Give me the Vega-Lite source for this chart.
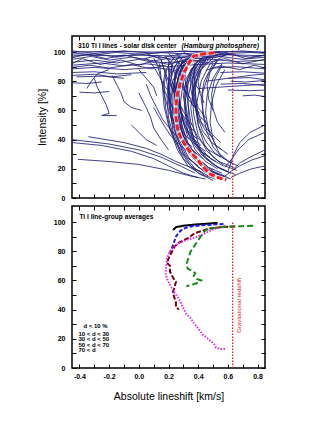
{
  "$schema": "https://vega.github.io/schema/vega-lite/v6.json",
  "background": "white",
  "padding": {"left": 36, "top": 34, "right": 5, "bottom": 5},
  "spacing": 2,
  "config": {
    "view": {"stroke": "black", "strokeWidth": 1.5},
    "axis": {"grid": false, "domain": false, "tickColor": "black", "tickSize": -4, "tickWidth": 1,
             "labelFont": "Liberation Sans", "labelFontSize": 7, "labelFontWeight": "bold", "labelColor": "black",
             "titleFont": "Liberation Sans", "titleFontSize": 10.5, "titleFontWeight": "normal", "titleColor": "black"},
    "text": {"font": "Liberation Sans"}
  },
  "datasets": {
    "bis": [
{"l":1,"x":0.62,"y":13},{"l":1,"x":0.50,"y":17},{"l":1,"x":0.40,"y":25},{"l":1,"x":0.33,"y":35},{"l":1,"x":0.29,"y":50},{"l":1,"x":0.28,"y":65},{"l":1,"x":0.30,"y":80},{"l":1,"x":0.33,"y":92},{"l":1,"x":0.40,"y":98},{"l":1,"x":0.55,"y":100},
{"l":2,"x":0.58,"y":15},{"l":2,"x":0.46,"y":20},{"l":2,"x":0.36,"y":30},{"l":2,"x":0.30,"y":42},{"l":2,"x":0.27,"y":58},{"l":2,"x":0.27,"y":72},{"l":2,"x":0.30,"y":85},{"l":2,"x":0.36,"y":95},{"l":2,"x":0.48,"y":99},
{"l":3,"x":0.55,"y":14},{"l":3,"x":0.44,"y":18},{"l":3,"x":0.34,"y":27},{"l":3,"x":0.27,"y":40},{"l":3,"x":0.23,"y":55},{"l":3,"x":0.22,"y":70},{"l":3,"x":0.25,"y":85},{"l":3,"x":0.30,"y":94},{"l":3,"x":0.25,"y":99},
{"l":4,"x":0.65,"y":16},{"l":4,"x":0.55,"y":20},{"l":4,"x":0.45,"y":27},{"l":4,"x":0.38,"y":38},{"l":4,"x":0.34,"y":52},{"l":4,"x":0.33,"y":68},{"l":4,"x":0.36,"y":82},{"l":4,"x":0.42,"y":93},{"l":4,"x":0.50,"y":99},
{"l":5,"x":0.50,"y":12},{"l":5,"x":0.40,"y":17},{"l":5,"x":0.30,"y":27},{"l":5,"x":0.24,"y":40},{"l":5,"x":0.20,"y":55},{"l":5,"x":0.19,"y":70},{"l":5,"x":0.21,"y":83},{"l":5,"x":0.26,"y":93},{"l":5,"x":0.20,"y":99},
{"l":6,"x":0.60,"y":18},{"l":6,"x":0.50,"y":23},{"l":6,"x":0.42,"y":30},{"l":6,"x":0.36,"y":42},{"l":6,"x":0.32,"y":56},{"l":6,"x":0.30,"y":70},{"l":6,"x":0.32,"y":82},{"l":6,"x":0.38,"y":92},{"l":6,"x":0.45,"y":98},
{"l":7,"x":0.47,"y":15},{"l":7,"x":0.38,"y":20},{"l":7,"x":0.30,"y":30},{"l":7,"x":0.25,"y":44},{"l":7,"x":0.22,"y":58},{"l":7,"x":0.20,"y":72},{"l":7,"x":0.18,"y":85},{"l":7,"x":0.15,"y":95},{"l":7,"x":0.05,"y":99},
{"l":8,"x":0.53,"y":20},{"l":8,"x":0.45,"y":25},{"l":8,"x":0.38,"y":33},{"l":8,"x":0.33,"y":45},{"l":8,"x":0.31,"y":60},{"l":8,"x":0.31,"y":75},{"l":8,"x":0.35,"y":88},{"l":8,"x":0.45,"y":96},{"l":8,"x":0.60,"y":100},
{"l":9,"x":0.57,"y":22},{"l":9,"x":0.48,"y":27},{"l":9,"x":0.41,"y":35},{"l":9,"x":0.37,"y":47},{"l":9,"x":0.35,"y":62},{"l":9,"x":0.37,"y":76},{"l":9,"x":0.42,"y":88},{"l":9,"x":0.50,"y":96},
{"l":10,"x":0.44,"y":16},{"l":10,"x":0.35,"y":22},{"l":10,"x":0.28,"y":32},{"l":10,"x":0.23,"y":46},{"l":10,"x":0.21,"y":62},{"l":10,"x":0.22,"y":78},{"l":10,"x":0.27,"y":90},{"l":10,"x":0.35,"y":97},{"l":10,"x":0.30,"y":100},
{"l":11,"x":0.66,"y":19},{"l":11,"x":0.58,"y":22},{"l":11,"x":0.50,"y":28},{"l":11,"x":0.44,"y":37},{"l":11,"x":0.40,"y":50},{"l":11,"x":0.39,"y":65},{"l":11,"x":0.42,"y":80},{"l":11,"x":0.48,"y":92},{"l":11,"x":0.60,"y":99},
{"l":12,"x":0.52,"y":25},{"l":12,"x":0.44,"y":30},{"l":12,"x":0.37,"y":38},{"l":12,"x":0.33,"y":50},{"l":12,"x":0.31,"y":64},{"l":12,"x":0.33,"y":78},{"l":12,"x":0.38,"y":90},
{"l":13,"x":0.48,"y":28},{"l":13,"x":0.40,"y":33},{"l":13,"x":0.33,"y":42},{"l":13,"x":0.29,"y":55},{"l":13,"x":0.27,"y":68},{"l":13,"x":0.28,"y":80},{"l":13,"x":0.33,"y":91},{"l":13,"x":0.40,"y":98},
{"l":14,"x":0.45,"y":32},{"l":14,"x":0.37,"y":38},{"l":14,"x":0.31,"y":48},{"l":14,"x":0.28,"y":60},{"l":14,"x":0.27,"y":72},{"l":14,"x":0.29,"y":84},{"l":14,"x":0.35,"y":94},
{"l":15,"x":0.42,"y":36},{"l":15,"x":0.35,"y":42},{"l":15,"x":0.30,"y":52},{"l":15,"x":0.27,"y":64},{"l":15,"x":0.26,"y":76},{"l":15,"x":0.30,"y":88},{"l":15,"x":0.25,"y":96},
{"l":16,"x":0.40,"y":40},{"l":16,"x":0.33,"y":46},{"l":16,"x":0.29,"y":56},{"l":16,"x":0.26,"y":68},{"l":16,"x":0.27,"y":80},{"l":16,"x":0.32,"y":90},{"l":16,"x":0.38,"y":97},
{"l":17,"x":0.38,"y":45},{"l":17,"x":0.32,"y":51},{"l":17,"x":0.28,"y":60},{"l":17,"x":0.25,"y":72},{"l":17,"x":0.24,"y":84},{"l":17,"x":0.27,"y":93},
{"l":18,"x":0.36,"y":50},{"l":18,"x":0.30,"y":56},{"l":18,"x":0.26,"y":65},{"l":18,"x":0.24,"y":76},{"l":18,"x":0.25,"y":86},{"l":18,"x":0.30,"y":95},
{"l":19,"x":0.48,"y":45},{"l":19,"x":0.42,"y":52},{"l":19,"x":0.39,"y":62},{"l":19,"x":0.38,"y":74},{"l":19,"x":0.40,"y":85},{"l":19,"x":0.45,"y":94},
{"l":20,"x":0.55,"y":38},{"l":20,"x":0.48,"y":45},{"l":20,"x":0.44,"y":55},{"l":20,"x":0.42,"y":68},{"l":20,"x":0.44,"y":80},{"l":20,"x":0.50,"y":92},
{"l":21,"x":0.33,"y":55},{"l":21,"x":0.28,"y":62},{"l":21,"x":0.24,"y":72},{"l":21,"x":0.22,"y":82},{"l":21,"x":0.22,"y":91},{"l":21,"x":0.18,"y":97},
{"l":22,"x":0.30,"y":60},{"l":22,"x":0.26,"y":67},{"l":22,"x":0.22,"y":76},{"l":22,"x":0.20,"y":86},{"l":22,"x":0.20,"y":93},
{"l":23,"x":0.45,"y":55},{"l":23,"x":0.40,"y":62},{"l":23,"x":0.37,"y":72},{"l":23,"x":0.36,"y":82},{"l":23,"x":0.38,"y":90},
{"l":24,"x":0.28,"y":65},{"l":24,"x":0.24,"y":72},{"l":24,"x":0.20,"y":80},{"l":24,"x":0.17,"y":88},{"l":24,"x":0.15,"y":94},
{"l":25,"x":0.50,"y":60},{"l":25,"x":0.47,"y":68},{"l":25,"x":0.46,"y":77},{"l":25,"x":0.48,"y":86},{"l":25,"x":0.53,"y":94},
{"l":26,"x":0.35,"y":68},{"l":26,"x":0.31,"y":74},{"l":26,"x":0.29,"y":82},{"l":26,"x":0.30,"y":90},{"l":26,"x":0.35,"y":96},
{"l":27,"x":0.22,"y":70},{"l":27,"x":0.18,"y":76},{"l":27,"x":0.14,"y":83},{"l":27,"x":0.10,"y":90},{"l":27,"x":0.05,"y":96},
{"l":28,"x":0.42,"y":72},{"l":28,"x":0.38,"y":78},{"l":28,"x":0.37,"y":85},{"l":28,"x":0.40,"y":92},
{"l":29,"x":0.60,"y":30},{"l":29,"x":0.52,"y":36},{"l":29,"x":0.47,"y":46},{"l":29,"x":0.45,"y":58},{"l":29,"x":0.46,"y":70},{"l":29,"x":0.50,"y":82},{"l":29,"x":0.56,"y":92},
{"l":30,"x":0.63,"y":24},{"l":30,"x":0.56,"y":28},{"l":30,"x":0.50,"y":35},{"l":30,"x":0.46,"y":45},{"l":30,"x":0.43,"y":58},{"l":30,"x":0.43,"y":72},{"l":30,"x":0.47,"y":85},{"l":30,"x":0.53,"y":95},
{"l":31,"x":0.40,"y":22},{"l":31,"x":0.32,"y":28},{"l":31,"x":0.25,"y":38},{"l":31,"x":0.20,"y":50},{"l":31,"x":0.17,"y":63},{"l":31,"x":0.16,"y":76},{"l":31,"x":0.18,"y":88},
{"l":32,"x":0.56,"y":17},{"l":32,"x":0.47,"y":21},{"l":32,"x":0.39,"y":28},{"l":32,"x":0.33,"y":38},{"l":32,"x":0.29,"y":50},{"l":32,"x":0.26,"y":63},{"l":32,"x":0.25,"y":76},{"l":32,"x":0.28,"y":88},{"l":32,"x":0.35,"y":96},
{"l":33,"x":-0.45,"y":40},{"l":33,"x":-0.2,"y":37},{"l":33,"x":0.0,"y":33},{"l":33,"x":0.15,"y":28},{"l":33,"x":0.28,"y":22},{"l":33,"x":0.38,"y":17},
{"l":34,"x":-0.34,"y":42},{"l":34,"x":-0.1,"y":38},{"l":34,"x":0.05,"y":34},{"l":34,"x":0.15,"y":30},{"l":34,"x":0.25,"y":25},{"l":34,"x":0.42,"y":18},
{"l":35,"x":-0.41,"y":26.5},{"l":35,"x":-0.2,"y":25},{"l":35,"x":0.0,"y":23},{"l":35,"x":0.2,"y":19},{"l":35,"x":0.35,"y":15},{"l":35,"x":0.45,"y":13},
{"l":36,"x":-0.45,"y":38},{"l":36,"x":-0.25,"y":36},{"l":36,"x":-0.05,"y":32},{"l":36,"x":0.1,"y":27},{"l":36,"x":0.2,"y":22},{"l":36,"x":0.3,"y":17},{"l":36,"x":0.4,"y":14},
{"l":37,"x":0.85,"y":50},{"l":37,"x":0.75,"y":45},{"l":37,"x":0.68,"y":38},{"l":37,"x":0.64,"y":30},{"l":37,"x":0.62,"y":24},{"l":37,"x":0.60,"y":18},
{"l":38,"x":0.85,"y":29},{"l":38,"x":0.76,"y":26},{"l":38,"x":0.68,"y":22},{"l":38,"x":0.63,"y":19},{"l":38,"x":0.58,"y":15},
{"l":39,"x":0.85,"y":22},{"l":39,"x":0.76,"y":20},{"l":39,"x":0.68,"y":17},{"l":39,"x":0.62,"y":14},
{"l":40,"x":0.85,"y":45},{"l":40,"x":0.74,"y":40},{"l":40,"x":0.67,"y":33},{"l":40,"x":0.62,"y":26},{"l":40,"x":0.58,"y":21},
{"l":41,"x":0.45,"y":80},{"l":41,"x":0.60,"y":82},{"l":41,"x":0.75,"y":84},{"l":41,"x":0.85,"y":85},
{"l":42,"x":0.40,"y":75},{"l":42,"x":0.55,"y":76},{"l":42,"x":0.70,"y":77},{"l":42,"x":0.85,"y":78},
{"l":43,"x":0.85,"y":33},{"l":43,"x":0.75,"y":28},{"l":43,"x":0.68,"y":24},{"l":43,"x":0.64,"y":20},
{"l":44,"x":-0.30,"y":82},{"l":44,"x":-0.28,"y":76},{"l":44,"x":-0.25,"y":70},{"l":44,"x":-0.22,"y":64},{"l":44,"x":-0.2,"y":58},{"l":44,"x":-0.25,"y":56.5},{"l":44,"x":-0.15,"y":56.5},
{"l":45,"x":-0.18,"y":84},{"l":45,"x":-0.15,"y":78},{"l":45,"x":-0.12,"y":72},{"l":45,"x":-0.1,"y":66},{"l":45,"x":-0.05,"y":62},{"l":45,"x":0.02,"y":60},
{"l":46,"x":-0.35,"y":75},{"l":46,"x":-0.32,"y":80},{"l":46,"x":-0.28,"y":85},{"l":46,"x":-0.2,"y":88},
{"l":47,"x":0.0,"y":72},{"l":47,"x":0.05,"y":62},{"l":47,"x":0.08,"y":55},{"l":47,"x":0.1,"y":48},{"l":47,"x":0.15,"y":40},{"l":47,"x":0.2,"y":33},
{"l":48,"x":-0.05,"y":50},{"l":48,"x":0.0,"y":45},{"l":48,"x":0.05,"y":40},{"l":48,"x":0.12,"y":36},
{"l":49,"x":0.10,"y":62},{"l":49,"x":0.14,"y":55},{"l":49,"x":0.18,"y":48},{"l":49,"x":0.22,"y":42},{"l":49,"x":0.28,"y":36},{"l":49,"x":0.35,"y":30},
{"l":50,"x":0.05,"y":78},{"l":50,"x":0.08,"y":70},{"l":50,"x":0.12,"y":62},{"l":50,"x":0.16,"y":54},{"l":50,"x":0.22,"y":46},{"l":50,"x":0.30,"y":38},
{"l":51,"x":-0.45,"y":99.5},{"l":51,"x":-0.3,"y":98},{"l":51,"x":-0.15,"y":99.8},{"l":51,"x":0,"y":98.5},{"l":51,"x":0.15,"y":99.6},{"l":51,"x":0.3,"y":98.8},{"l":51,"x":0.45,"y":99.9},{"l":51,"x":0.6,"y":99},{"l":51,"x":0.75,"y":99.7},{"l":51,"x":0.85,"y":99.2},
{"l":52,"x":-0.45,"y":97},{"l":52,"x":-0.3,"y":99},{"l":52,"x":-0.15,"y":96.5},{"l":52,"x":0,"y":98.8},{"l":52,"x":0.15,"y":96},{"l":52,"x":0.3,"y":99},{"l":52,"x":0.45,"y":97},{"l":52,"x":0.6,"y":98.5},{"l":52,"x":0.75,"y":96.5},{"l":52,"x":0.85,"y":98},
{"l":53,"x":-0.45,"y":95},{"l":53,"x":-0.32,"y":97},{"l":53,"x":-0.2,"y":94.5},{"l":53,"x":-0.05,"y":96.5},{"l":53,"x":0.1,"y":94},{"l":53,"x":0.25,"y":96.5},{"l":53,"x":0.4,"y":95.5},{"l":53,"x":0.55,"y":97},{"l":53,"x":0.7,"y":95},{"l":53,"x":0.85,"y":96.5},
{"l":54,"x":-0.45,"y":93},{"l":54,"x":-0.3,"y":94.5},{"l":54,"x":-0.15,"y":92.5},{"l":54,"x":0,"y":95},{"l":54,"x":0.12,"y":92.5},{"l":54,"x":0.3,"y":93.5},{"l":54,"x":0.5,"y":95},{"l":54,"x":0.65,"y":93.5},{"l":54,"x":0.85,"y":94.5},
{"l":55,"x":-0.45,"y":91},{"l":55,"x":-0.25,"y":92.5},{"l":55,"x":-0.1,"y":90.5},{"l":55,"x":0.05,"y":92},{"l":55,"x":0.2,"y":90},{"l":55,"x":0.4,"y":91.5},{"l":55,"x":0.6,"y":92.5},{"l":55,"x":0.85,"y":91.5},
{"l":56,"x":-0.45,"y":88.5},{"l":56,"x":-0.3,"y":89.5},{"l":56,"x":-0.1,"y":88},{"l":56,"x":0.1,"y":89.5},{"l":56,"x":0.25,"y":87.5},
{"l":57,"x":0.5,"y":89},{"l":57,"x":0.65,"y":90},{"l":57,"x":0.85,"y":88.5},
{"l":58,"x":-0.45,"y":86},{"l":58,"x":-0.3,"y":86.5},{"l":58,"x":-0.15,"y":85},{"l":58,"x":0.05,"y":86},
{"l":59,"x":0.55,"y":86},{"l":59,"x":0.7,"y":86.5},{"l":59,"x":0.85,"y":85.5},
{"l":60,"x":-0.42,"y":83},{"l":60,"x":-0.25,"y":83.5},{"l":60,"x":-0.1,"y":82},
{"l":61,"x":0.6,"y":82},{"l":61,"x":0.75,"y":82.5},{"l":61,"x":0.85,"y":81},
{"l":62,"x":-0.45,"y":100},{"l":62,"x":-0.2,"y":100.5},{"l":62,"x":0.1,"y":100},{"l":62,"x":0.4,"y":100.5},{"l":62,"x":0.85,"y":100},
{"l":63,"x":-0.45,"y":98},{"l":63,"x":-0.2,"y":97.5},{"l":63,"x":0.05,"y":97.8},{"l":63,"x":0.3,"y":97.2},{"l":63,"x":0.55,"y":98.2},{"l":63,"x":0.85,"y":97.5},
{"l":64,"x":0.55,"y":78},{"l":64,"x":0.7,"y":78.5},{"l":64,"x":0.85,"y":77},
{"l":65,"x":-0.45,"y":79},{"l":65,"x":-0.35,"y":78.5},{"l":65,"x":-0.25,"y":79.5},
{"l":66,"x":0.6,"y":74},{"l":66,"x":0.75,"y":73.5},{"l":66,"x":0.85,"y":74},
{"l":67,"x":0.60,"y":14},{"l":67,"x":0.49,"y":18},{"l":67,"x":0.39,"y":26},{"l":67,"x":0.32,"y":37},{"l":67,"x":0.27,"y":52},{"l":67,"x":0.25,"y":67},{"l":67,"x":0.26,"y":80},{"l":67,"x":0.30,"y":91},{"l":67,"x":0.38,"y":98},
{"l":68,"x":0.54,"y":16},{"l":68,"x":0.43,"y":21},{"l":68,"x":0.34,"y":30},{"l":68,"x":0.28,"y":43},{"l":68,"x":0.25,"y":57},{"l":68,"x":0.24,"y":71},{"l":68,"x":0.27,"y":84},{"l":68,"x":0.33,"y":94},{"l":68,"x":0.45,"y":99},
{"l":69,"x":0.64,"y":21},{"l":69,"x":0.54,"y":25},{"l":69,"x":0.46,"y":32},{"l":69,"x":0.40,"y":43},{"l":69,"x":0.37,"y":57},{"l":69,"x":0.36,"y":71},{"l":69,"x":0.38,"y":84},{"l":69,"x":0.44,"y":94},{"l":69,"x":0.55,"y":99},
{"l":70,"x":0.50,"y":19},{"l":70,"x":0.41,"y":24},{"l":70,"x":0.34,"y":32},{"l":70,"x":0.29,"y":45},{"l":70,"x":0.26,"y":59},{"l":70,"x":0.25,"y":73},{"l":70,"x":0.27,"y":86},{"l":70,"x":0.32,"y":95},{"l":70,"x":0.42,"y":99},
{"l":71,"x":0.46,"y":22},{"l":71,"x":0.38,"y":27},{"l":71,"x":0.31,"y":36},{"l":71,"x":0.26,"y":48},{"l":71,"x":0.23,"y":62},{"l":71,"x":0.23,"y":76},{"l":71,"x":0.26,"y":88},{"l":71,"x":0.32,"y":96},
{"l":72,"x":0.59,"y":26},{"l":72,"x":0.51,"y":31},{"l":72,"x":0.45,"y":39},{"l":72,"x":0.40,"y":50},{"l":72,"x":0.38,"y":63},{"l":72,"x":0.38,"y":77},{"l":72,"x":0.41,"y":89},{"l":72,"x":0.47,"y":97},
{"l":73,"x":0.52,"y":13},{"l":73,"x":0.42,"y":16},{"l":73,"x":0.33,"y":22},{"l":73,"x":0.26,"y":33},{"l":73,"x":0.21,"y":47},{"l":73,"x":0.18,"y":62},{"l":73,"x":0.17,"y":77},{"l":73,"x":0.19,"y":89},{"l":73,"x":0.24,"y":97},
{"l":74,"x":0.62,"y":17},{"l":74,"x":0.53,"y":21},{"l":74,"x":0.44,"y":29},{"l":74,"x":0.37,"y":41},{"l":74,"x":0.33,"y":55},{"l":74,"x":0.31,"y":69},{"l":74,"x":0.33,"y":82},{"l":74,"x":0.39,"y":93},{"l":74,"x":0.50,"y":99},
{"l":75,"x":0.43,"y":27},{"l":75,"x":0.36,"y":33},{"l":75,"x":0.30,"y":42},{"l":75,"x":0.26,"y":54},{"l":75,"x":0.24,"y":67},{"l":75,"x":0.24,"y":80},{"l":75,"x":0.28,"y":91},{"l":75,"x":0.36,"y":98},
{"l":76,"x":0.56,"y":33},{"l":76,"x":0.49,"y":38},{"l":76,"x":0.43,"y":46},{"l":76,"x":0.39,"y":57},{"l":76,"x":0.37,"y":70},{"l":76,"x":0.38,"y":82},{"l":76,"x":0.42,"y":92},
{"l":77,"x":0.39,"y":30},{"l":77,"x":0.32,"y":36},{"l":77,"x":0.26,"y":45},{"l":77,"x":0.22,"y":57},{"l":77,"x":0.20,"y":70},{"l":77,"x":0.20,"y":82},{"l":77,"x":0.23,"y":92},{"l":77,"x":0.28,"y":98},
{"l":78,"x":0.51,"y":40},{"l":78,"x":0.45,"y":46},{"l":78,"x":0.40,"y":55},{"l":78,"x":0.37,"y":66},{"l":78,"x":0.36,"y":78},{"l":78,"x":0.38,"y":89},{"l":78,"x":0.43,"y":96},
{"l":79,"x":0.34,"y":40},{"l":79,"x":0.28,"y":47},{"l":79,"x":0.24,"y":56},{"l":79,"x":0.21,"y":67},{"l":79,"x":0.20,"y":79},{"l":79,"x":0.21,"y":90},
{"l":80,"x":0.47,"y":50},{"l":80,"x":0.41,"y":56},{"l":80,"x":0.37,"y":65},{"l":80,"x":0.35,"y":75},{"l":80,"x":0.35,"y":85},{"l":80,"x":0.38,"y":93},
{"l":81,"x":0.41,"y":58},{"l":81,"x":0.36,"y":64},{"l":81,"x":0.33,"y":72},{"l":81,"x":0.31,"y":81},{"l":81,"x":0.32,"y":90},{"l":81,"x":0.36,"y":97},
{"l":82,"x":0.26,"y":58},{"l":82,"x":0.22,"y":64},{"l":82,"x":0.18,"y":72},{"l":82,"x":0.15,"y":81},{"l":82,"x":0.13,"y":90},{"l":82,"x":0.10,"y":96},
{"l":83,"x":0.58,"y":45},{"l":83,"x":0.53,"y":52},{"l":83,"x":0.50,"y":61},{"l":83,"x":0.49,"y":71},{"l":83,"x":0.51,"y":81},{"l":83,"x":0.56,"y":91},
{"l":84,"x":0.38,"y":62},{"l":84,"x":0.33,"y":68},{"l":84,"x":0.30,"y":76},{"l":84,"x":0.28,"y":85},{"l":84,"x":0.29,"y":93},
{"l":85,"x":0.31,"y":73},{"l":85,"x":0.27,"y":79},{"l":85,"x":0.24,"y":86},{"l":85,"x":0.22,"y":92},{"l":85,"x":0.18,"y":97},
{"l":86,"x":0.44,"y":65},{"l":86,"x":0.41,"y":72},{"l":86,"x":0.40,"y":80},{"l":86,"x":0.42,"y":88},{"l":86,"x":0.47,"y":95},
{"l":87,"x":0.67,"y":22},{"l":87,"x":0.60,"y":25},{"l":87,"x":0.54,"y":31},{"l":87,"x":0.50,"y":40},{"l":87,"x":0.48,"y":52},{"l":87,"x":0.49,"y":65},{"l":87,"x":0.52,"y":77},{"l":87,"x":0.58,"y":88},
{"l":88,"x":0.48,"y":17},{"l":88,"x":0.40,"y":21},{"l":88,"x":0.32,"y":29},{"l":88,"x":0.26,"y":40},{"l":88,"x":0.22,"y":53},{"l":88,"x":0.20,"y":66},{"l":88,"x":0.21,"y":79},{"l":88,"x":0.24,"y":90},{"l":88,"x":0.30,"y":97},
{"l":89,"x":0.55,"y":28},{"l":89,"x":0.47,"y":33},{"l":89,"x":0.40,"y":41},{"l":89,"x":0.35,"y":52},{"l":89,"x":0.33,"y":65},{"l":89,"x":0.33,"y":78},{"l":89,"x":0.36,"y":89},{"l":89,"x":0.42,"y":96},
{"l":90,"x":0.36,"y":35},{"l":90,"x":0.29,"y":41},{"l":90,"x":0.24,"y":50},{"l":90,"x":0.20,"y":60},{"l":90,"x":0.17,"y":71},{"l":90,"x":0.15,"y":82},{"l":90,"x":0.14,"y":92},
{"l":91,"x":-0.45,"y":96},{"l":91,"x":-0.35,"y":98.5},{"l":91,"x":-0.22,"y":95.5},{"l":91,"x":-0.1,"y":98},{"l":91,"x":0.02,"y":95},{"l":91,"x":0.12,"y":97.5},{"l":91,"x":0.22,"y":94.5},{"l":91,"x":0.35,"y":97.5},{"l":91,"x":0.5,"y":96},{"l":91,"x":0.62,"y":98.8},{"l":91,"x":0.72,"y":95.5},{"l":91,"x":0.85,"y":97.8},
{"l":92,"x":-0.45,"y":92},{"l":92,"x":-0.38,"y":95.5},{"l":92,"x":-0.26,"y":91.5},{"l":92,"x":-0.12,"y":94.5},{"l":92,"x":0.0,"y":91},{"l":92,"x":0.1,"y":94},{"l":92,"x":0.2,"y":91.5},{"l":92,"x":0.32,"y":95},{"l":92,"x":0.45,"y":92.5},{"l":92,"x":0.58,"y":95.5},{"l":92,"x":0.7,"y":92},{"l":92,"x":0.85,"y":95},
{"l":93,"x":-0.45,"y":89.5},{"l":93,"x":-0.33,"y":91},{"l":93,"x":-0.2,"y":89},{"l":93,"x":-0.05,"y":91.5},{"l":93,"x":0.08,"y":88.5},{"l":93,"x":0.18,"y":91},
{"l":94,"x":0.45,"y":87.5},{"l":94,"x":0.55,"y":90.5},{"l":94,"x":0.68,"y":88},{"l":94,"x":0.78,"y":91},{"l":94,"x":0.85,"y":89},
{"l":95,"x":-0.45,"y":84},{"l":95,"x":-0.3,"y":84.8},{"l":95,"x":-0.18,"y":83},{"l":95,"x":-0.05,"y":84.5},
{"l":96,"x":-0.45,"y":100.8},{"l":96,"x":-0.3,"y":99.2},{"l":96,"x":-0.1,"y":100.8},{"l":96,"x":0.1,"y":99.2},{"l":96,"x":0.3,"y":100.8},{"l":96,"x":0.5,"y":99.5},{"l":96,"x":0.7,"y":100.8},{"l":96,"x":0.85,"y":99.5},
{"l":97,"x":0.62,"y":80},{"l":97,"x":0.72,"y":79.5},{"l":97,"x":0.85,"y":80.5},
{"l":98,"x":-0.4,"y":72.5},{"l":98,"x":-0.3,"y":72},{"l":98,"x":-0.2,"y":73},
{"l":99,"x":0.7,"y":70},{"l":99,"x":0.78,"y":70.5},{"l":99,"x":0.85,"y":69.5},
{"l":100,"x":0.0,"y":88},{"l":100,"x":0.05,"y":82},{"l":100,"x":0.1,"y":76},{"l":100,"x":0.12,"y":70}
    ],
    "mean": [
{"x":0.51,"y":99.5},{"x":0.44,"y":98.8},{"x":0.37,"y":97.3},{"x":0.34,"y":93},{"x":0.31,"y":87},{"x":0.28,"y":79},{"x":0.26,"y":71},{"x":0.25,"y":63},{"x":0.25,"y":55},{"x":0.26,"y":48},{"x":0.28,"y":42},{"x":0.31,"y":36.5},{"x":0.35,"y":31},{"x":0.39,"y":27},{"x":0.42,"y":23},{"x":0.45,"y":19.5},{"x":0.48,"y":16.5},{"x":0.52,"y":14.5},{"x":0.56,"y":13.2},{"x":0.59,"y":12.5}
    ],
    "grp": [
{"g":"a","x":0.23,"y":94.5},{"g":"a","x":0.25,"y":96.5},{"g":"a","x":0.30,"y":97.5},{"g":"a","x":0.38,"y":98.3},{"g":"a","x":0.45,"y":98.8},{"g":"a","x":0.50,"y":99.2},{"g":"a","x":0.53,"y":99.5},
{"g":"b","x":0.57,"y":98.6},{"g":"b","x":0.50,"y":98.3},{"g":"b","x":0.42,"y":97.8},{"g":"b","x":0.35,"y":97},{"g":"b","x":0.30,"y":95.5},{"g":"b","x":0.27,"y":93},{"g":"b","x":0.25,"y":90},{"g":"b","x":0.24,"y":87},{"g":"b","x":0.23,"y":84},{"g":"b","x":0.22,"y":81},{"g":"b","x":0.21,"y":79},
{"g":"c","x":0.65,"y":97},{"g":"c","x":0.55,"y":96.5},{"g":"c","x":0.47,"y":95.5},{"g":"c","x":0.43,"y":94},{"g":"c","x":0.38,"y":92.5},{"g":"c","x":0.33,"y":89},{"g":"c","x":0.27,"y":86},{"g":"c","x":0.24,"y":83},{"g":"c","x":0.22,"y":79},{"g":"c","x":0.20,"y":75},{"g":"c","x":0.19,"y":72},{"g":"c","x":0.21,"y":70},{"g":"c","x":0.21,"y":66},{"g":"c","x":0.23,"y":62},{"g":"c","x":0.25,"y":59},{"g":"c","x":0.24,"y":55},{"g":"c","x":0.23,"y":52},{"g":"c","x":0.24,"y":48},{"g":"c","x":0.25,"y":45},{"g":"c","x":0.25,"y":42},{"g":"c","x":0.27,"y":40},
{"g":"d","x":0.58,"y":97.5},{"g":"d","x":0.50,"y":95},{"g":"d","x":0.43,"y":91.5},{"g":"d","x":0.38,"y":89.5},{"g":"d","x":0.33,"y":88},{"g":"d","x":0.28,"y":86},{"g":"d","x":0.24,"y":83.5},{"g":"d","x":0.21,"y":80},{"g":"d","x":0.19,"y":75},{"g":"d","x":0.185,"y":70},{"g":"d","x":0.18,"y":65},{"g":"d","x":0.19,"y":61},{"g":"d","x":0.21,"y":57},{"g":"d","x":0.23,"y":53},{"g":"d","x":0.26,"y":49},{"g":"d","x":0.28,"y":45.5},{"g":"d","x":0.29,"y":43},{"g":"d","x":0.30,"y":41},{"g":"d","x":0.32,"y":37},{"g":"d","x":0.35,"y":34},{"g":"d","x":0.37,"y":31},{"g":"d","x":0.40,"y":27},{"g":"d","x":0.43,"y":23},{"g":"d","x":0.46,"y":20.5},{"g":"d","x":0.49,"y":18},{"g":"d","x":0.51,"y":16},{"g":"d","x":0.52,"y":14},{"g":"d","x":0.55,"y":13},{"g":"d","x":0.59,"y":13},
{"g":"e","x":0.77,"y":97.5},{"g":"e","x":0.70,"y":97.2},{"g":"e","x":0.62,"y":97},{"g":"e","x":0.55,"y":96.5},{"g":"e","x":0.48,"y":95.5},{"g":"e","x":0.45,"y":94.5},{"g":"e","x":0.43,"y":92},{"g":"e","x":0.41,"y":89},{"g":"e","x":0.39,"y":86},{"g":"e","x":0.37,"y":83},{"g":"e","x":0.35,"y":80},{"g":"e","x":0.34,"y":77},{"g":"e","x":0.33,"y":74},{"g":"e","x":0.32,"y":71},{"g":"e","x":0.33,"y":68},{"g":"e","x":0.36,"y":66.5},{"g":"e","x":0.38,"y":65},{"g":"e","x":0.37,"y":63},{"g":"e","x":0.39,"y":61},{"g":"e","x":0.42,"y":60},{"g":"e","x":0.40,"y":58.5},{"g":"e","x":0.36,"y":57},{"g":"e","x":0.32,"y":56}
    ]
  },
  "vconcat": [
    {
      "width": 193, "height": 162,
      "layer": [
        {
          "data": {"name": "bis"},
          "mark": {"type": "line", "color": "#1f1f7a", "strokeWidth": 0.85, "clip": true},
          "encoding": {
            "x": {"field": "x", "type": "quantitative", "scale": {"domain": [-0.45, 0.85], "nice": false, "zero": false},
                  "axis": {"orient": "bottom", "labels": false, "title": null, "values": [-0.4,-0.3,-0.2,-0.1,0,0.1,0.2,0.3,0.4,0.5,0.6,0.7,0.8]}},
            "y": {"field": "y", "type": "quantitative", "scale": {"domain": [0, 111], "nice": false},
                  "axis": {"orient": "left", "title": "Intensity  [%]", "titlePadding": 6, "labelPadding": 11,
                           "values": [0,10,20,30,40,50,60,70,80,90,100], "labelExpr": "datum.value % 20 == 0 ? datum.label : ''"}},
            "detail": {"field": "l", "type": "nominal"},
            "order": {"value": null}
          }
        },
        {
          "data": {"values": [{"x": 0.632, "y": 0, "y2": 101}]},
          "mark": {"type": "rule", "color": "#e02020", "strokeWidth": 1.3, "strokeDash": [1.5, 1.5]},
          "encoding": {
            "x": {"field": "x", "type": "quantitative",
                  "axis": {"orient": "top", "labels": false, "title": null, "values": [-0.4,-0.3,-0.2,-0.1,0,0.1,0.2,0.3,0.4,0.5,0.6,0.7,0.8]}},
            "y": {"field": "y", "type": "quantitative",
                  "axis": {"orient": "right", "labels": false, "title": null, "values": [0,10,20,30,40,50,60,70,80,90,100]}},
            "y2": {"field": "y2"}
          }
        },
        {
          "data": {"name": "mean"},
          "mark": {"type": "line", "color": "white", "strokeWidth": 4.5, "opacity": 0.7},
          "encoding": {
            "x": {"field": "x", "type": "quantitative", "axis": null},
            "y": {"field": "y", "type": "quantitative", "axis": null},
            "order": {"value": null}
          }
        },
        {
          "data": {"name": "mean"},
          "mark": {"type": "line", "color": "#ff1a1a", "strokeWidth": 3, "strokeDash": [6, 2.5]},
          "encoding": {
            "x": {"field": "x", "type": "quantitative", "axis": null},
            "y": {"field": "y", "type": "quantitative", "axis": null},
            "order": {"value": null}
          }
        },
        {
          "data": {"values": [{"x": -0.41, "y": 104.2, "t": "310 Ti I lines - solar disk center"}]},
          "mark": {"type": "text", "align": "left", "baseline": "middle", "fontSize": 6.7, "fontWeight": "bold", "color": "black"},
          "encoding": {
            "x": {"field": "x", "type": "quantitative", "axis": null},
            "y": {"field": "y", "type": "quantitative", "axis": null},
            "text": {"field": "t"}
          }
        },
        {
          "data": {"values": [{"x": 0.288, "y": 104.2, "t": "(Hamburg photosphere)"}]},
          "mark": {"type": "text", "align": "left", "baseline": "middle", "fontSize": 6.8, "fontWeight": "bold", "fontStyle": "italic", "color": "black"},
          "encoding": {
            "x": {"field": "x", "type": "quantitative", "axis": null},
            "y": {"field": "y", "type": "quantitative", "axis": null},
            "text": {"field": "t"}
          }
        }
      ]
    },
    {
      "width": 193, "height": 162,
      "layer": [
        {
          "data": {"name": "grp"},
          "mark": {"type": "line", "strokeWidth": 2, "clip": true},
          "encoding": {
            "x": {"field": "x", "type": "quantitative", "scale": {"domain": [-0.45, 0.85], "nice": false, "zero": false},
                  "axis": {"orient": "bottom", "title": "Absolute lineshift  [km/s]", "labelPadding": 8.5, "titlePadding": 12,
                           "values": [-0.4,-0.3,-0.2,-0.1,0,0.1,0.2,0.3,0.4,0.5,0.6,0.7,0.8],
                           "labelExpr": "abs(round(datum.value*10)) % 2 == 0 ? replace(format(datum.value, '.1f'), '\u2212', '-') : ''"}},
            "y": {"field": "y", "type": "quantitative", "scale": {"domain": [0, 111], "nice": false},
                  "axis": {"orient": "left", "title": null, "labelPadding": 11,
                           "values": [0,10,20,30,40,50,60,70,80,90,100], "labelExpr": "datum.value % 20 == 0 ? datum.label : ''"}},
            "color": {"field": "g", "type": "nominal", "legend": null,
                      "scale": {"domain": ["a","b","c","d","e"], "range": ["#000000", "#1a1aee", "#7a0000", "#ee22ee", "#1a8a1a"]}},
            "strokeDash": {"field": "g", "type": "nominal", "legend": null,
                      "scale": {"domain": ["a","b","c","d","e"], "range": [[1,0],[4,2],[5,2],[1.5,1.5],[6,3]]}},
            "order": {"value": null}
          }
        },
        {
          "data": {"values": [{"x": 0.632, "y": 0, "y2": 100}]},
          "mark": {"type": "rule", "color": "#e02020", "strokeWidth": 1.3, "strokeDash": [1.5, 1.5]},
          "encoding": {
            "x": {"field": "x", "type": "quantitative",
                  "axis": {"orient": "top", "labels": false, "title": null, "values": [-0.4,-0.3,-0.2,-0.1,0,0.1,0.2,0.3,0.4,0.5,0.6,0.7,0.8]}},
            "y": {"field": "y", "type": "quantitative",
                  "axis": {"orient": "right", "labels": false, "title": null, "values": [0,10,20,30,40,50,60,70,80,90,100]}},
            "y2": {"field": "y2"}
          }
        },
        {
          "data": {"values": [{"x": -0.4, "y": 103.8, "t": "Ti I line-group averages"}]},
          "mark": {"type": "text", "align": "left", "baseline": "middle", "fontSize": 6.6, "fontWeight": "bold", "color": "black"},
          "encoding": {
            "x": {"field": "x", "type": "quantitative", "axis": null},
            "y": {"field": "y", "type": "quantitative", "axis": null},
            "text": {"field": "t"}
          }
        },
        {
          "data": {"values": [
            {"x": -0.373, "y": 28.5, "t": "d < 10 %"},
            {"x": -0.407, "y": 23.5, "t": "10 < d < 30"},
            {"x": -0.407, "y": 19.7, "t": "30 < d < 50"},
            {"x": -0.407, "y": 15.8, "t": "50 < d < 70"},
            {"x": -0.407, "y": 12, "t": "70 < d"}
          ]},
          "mark": {"type": "text", "align": "left", "baseline": "middle", "fontSize": 6, "fontWeight": "bold", "color": "black"},
          "encoding": {
            "x": {"field": "x", "type": "quantitative", "axis": null},
            "y": {"field": "y", "type": "quantitative", "axis": null},
            "text": {"field": "t"}
          }
        },
        {
          "data": {"values": [{"x": 0.672, "y": 43, "t": "Gravitational redshift"}]},
          "mark": {"type": "text", "align": "center", "baseline": "middle", "angle": 270, "fontSize": 6, "color": "#d02020"},
          "encoding": {
            "x": {"field": "x", "type": "quantitative", "axis": null},
            "y": {"field": "y", "type": "quantitative", "axis": null},
            "text": {"field": "t"}
          }
        }
      ]
    }
  ]
}
